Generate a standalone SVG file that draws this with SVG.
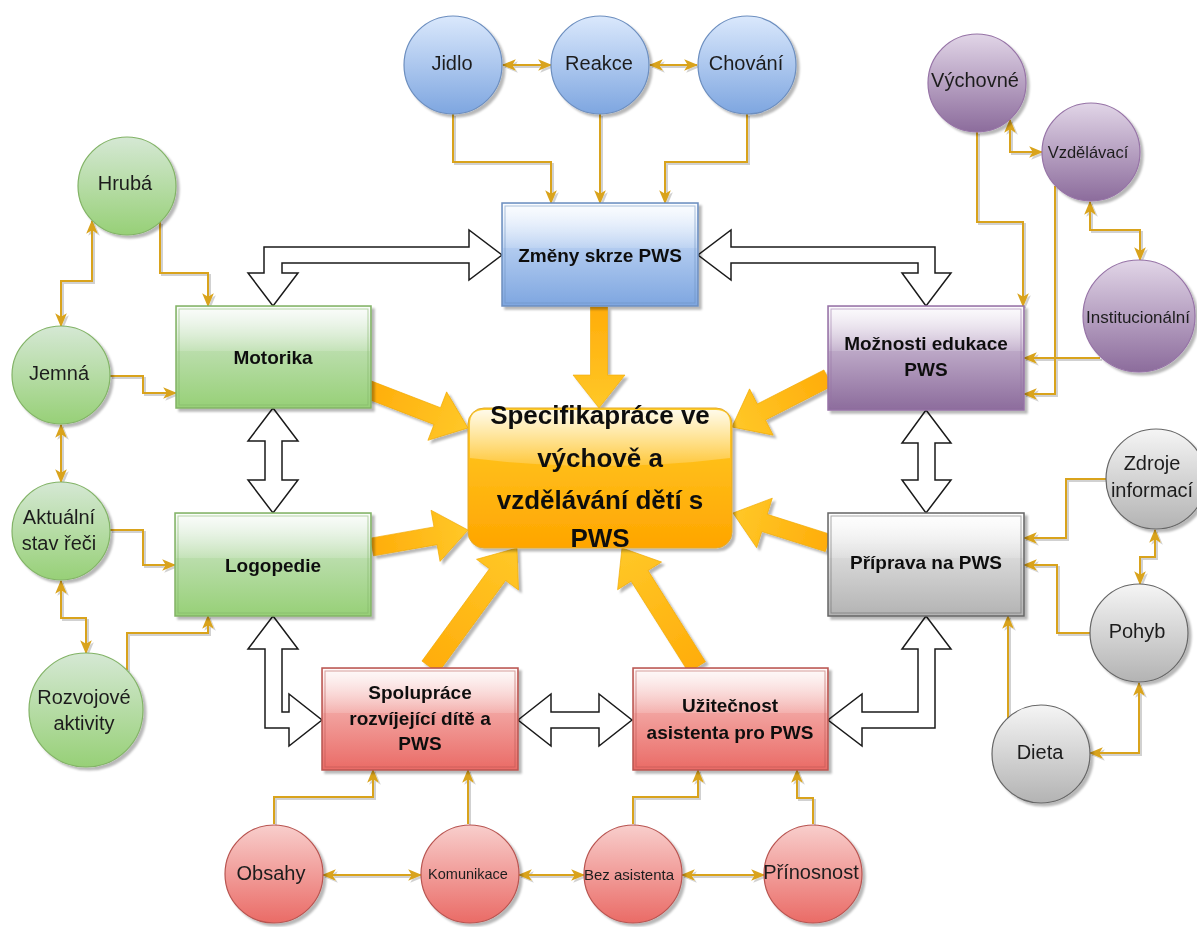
<svg xmlns="http://www.w3.org/2000/svg" width="1197" height="927" viewBox="0 0 1197 927">
  <defs>
    <linearGradient id="gBlue" x1="0" y1="0" x2="0" y2="1"><stop offset="0" stop-color="#dae8fc"/><stop offset="1" stop-color="#7ea6e0"/></linearGradient>
    <linearGradient id="gGreen" x1="0" y1="0" x2="0" y2="1"><stop offset="0" stop-color="#d5e8d4"/><stop offset="1" stop-color="#97d077"/></linearGradient>
    <linearGradient id="gPurple" x1="0" y1="0" x2="0" y2="1"><stop offset="0" stop-color="#e1d5e7"/><stop offset="1" stop-color="#8c6c9c"/></linearGradient>
    <linearGradient id="gRed" x1="0" y1="0" x2="0" y2="1"><stop offset="0" stop-color="#f8cecc"/><stop offset="1" stop-color="#ea6b66"/></linearGradient>
    <linearGradient id="gGray" x1="0" y1="0" x2="0" y2="1"><stop offset="0" stop-color="#f5f5f5"/><stop offset="1" stop-color="#b3b3b3"/></linearGradient>
    <linearGradient id="gOrange" x1="0" y1="0" x2="0" y2="1"><stop offset="0" stop-color="#ffcd28"/><stop offset="1" stop-color="#ffa500"/></linearGradient>
    <linearGradient id="gArrow" x1="0" y1="0" x2="1" y2="0"><stop offset="0" stop-color="#ffad0a"/><stop offset="1" stop-color="#ffc828"/></linearGradient>
    <linearGradient id="glass" x1="0" y1="0" x2="0" y2="1"><stop offset="0" stop-color="#fff" stop-opacity="0.9"/><stop offset="1" stop-color="#fff" stop-opacity="0.15"/></linearGradient>
    <filter id="sh" x="-20%" y="-20%" width="150%" height="150%">
      <feGaussianBlur in="SourceAlpha" stdDeviation="1.2"/>
      <feOffset dx="3" dy="3" result="o"/>
      <feFlood flood-color="#000" flood-opacity="0.28"/>
      <feComposite in2="o" operator="in"/>
      <feMerge><feMergeNode/><feMergeNode in="SourceGraphic"/></feMerge>
    </filter>
    <filter id="lsh" x="-10%" y="-10%" width="130%" height="130%">
      <feOffset in="SourceAlpha" dx="2" dy="2" result="o"/>
      <feFlood flood-color="#000" flood-opacity="0.18"/>
      <feComposite in2="o" operator="in"/>
      <feMerge><feMergeNode/><feMergeNode in="SourceGraphic"/></feMerge>
    </filter>
    <marker id="ah" viewBox="0 0 12 12" refX="11" refY="6" markerWidth="14" markerHeight="14" markerUnits="userSpaceOnUse" orient="auto-start-reverse">
      <path d="M0,1 L12,6 L0,11 L3,6 Z" fill="#d9a31b"/>
    </marker>
    <style>
      .lbl { font-family: "Liberation Sans", Arial, sans-serif; fill: #1e1e1e; text-anchor: middle; dominant-baseline: central; }
      .bt { font-size: 19px; font-weight: bold; fill: #111; }
      .ct { font-size: 20px; }
      .main { font-size: 26px; font-weight: bold; fill: #111; }
      .box { stroke-width: 1.5; }
      .inner { fill: none; stroke-width: 1; stroke-opacity: 0.55; }
      .circ { stroke-width: 1.2; }
      .cn { fill: none; stroke: #d9a31b; stroke-width: 2; }
      .one { marker-end: url(#ah); }
      .two { marker-start: url(#ah); marker-end: url(#ah); }
      .hollow { fill: #fff; stroke: #1a1a1a; stroke-width: 1.5; stroke-linejoin: miter; }
      .big { fill: url(#gArrow); stroke: #f0a800; stroke-width: 0.6; }
      .blue { fill: url(#gBlue); stroke: #6c8ebf; }
      .green { fill: url(#gGreen); stroke: #82b366; }
      .purple { fill: url(#gPurple); stroke: #9673a6; }
      .red { fill: url(#gRed); stroke: #b85450; }
      .gray { fill: url(#gGray); stroke: #666666; }
    </style>
  </defs>

  <rect width="1197" height="927" fill="#ffffff"/>

  <!-- connectors -->
  <g id="connectors">
    <g id="thin-links" filter="url(#lsh)">
      <!-- top group -->
      <path class="cn one" d="M453,114 V162 H551 V203"/>
      <path class="cn one" d="M600,114 V203"/>
      <path class="cn one" d="M747,114 V162 H665 V203"/>
      <path class="cn two" d="M503,65 H551"/>
      <path class="cn two" d="M650,65 H697"/>
      <!-- left group -->
      <path class="cn one" d="M160,222 V273 H208 V306"/>
      <path class="cn two" d="M92,221 V281 H61 V326"/>
      <path class="cn one" d="M110,376 H143 V393 H176"/>
      <path class="cn two" d="M61,425 V482"/>
      <path class="cn one" d="M110,530 H143 V565 H175"/>
      <path class="cn two" d="M61,581 V618 H86 V653"/>
      <path class="cn one" d="M127,670 V633 H208 V616"/>
      <!-- right upper group -->
      <path class="cn one" d="M977,132 V222 H1023 V306"/>
      <path class="cn two" d="M1010,120 V152 H1042"/>
      <path class="cn one" d="M1055,186 V394 H1024"/>
      <path class="cn two" d="M1090,202 V230 H1140 V260"/>
      <path class="cn one" d="M1100,358 H1024"/>
      <!-- right lower group -->
      <path class="cn one" d="M1106,479 H1066 V538 H1024"/>
      <path class="cn one" d="M1090,633 H1057 V565 H1024"/>
      <path class="cn two" d="M1155,530 V557 H1140 V584"/>
      <path class="cn one" d="M1008,718 V616"/>
      <path class="cn two" d="M1139,683 V753 H1090"/>
      <!-- bottom group -->
      <path class="cn one" d="M274,824 V797 H373 V770"/>
      <path class="cn one" d="M468,824 V770"/>
      <path class="cn two" d="M323,875 H421"/>
      <path class="cn two" d="M519,875 H584"/>
      <path class="cn two" d="M682,875 H764"/>
      <path class="cn one" d="M633,824 V797 H698 V770"/>
      <path class="cn one" d="M813,824 V798 H797 V770"/>
    </g>

    <!-- hollow block arrows between the category boxes -->
    <g id="block-links">
      <polygon class="hollow" points="469,247 264,247 264,273 248,273 273,306 298,273 282,273 282,263 469,263 469,280 502,255 469,230"/>
      <polygon class="hollow" points="731,247 935,247 935,273 951,273 926,306 902,273 918,273 918,263 731,263 731,280 698,255 731,230"/>
      <polygon class="hollow" points="273,408 298,441 282,441 282,480 298,480 273,513 248,480 265,480 265,441 248,441"/>
      <polygon class="hollow" points="273,616 298,649 282,649 282,712 289,712 289,694 322,720 289,746 289,728 265,728 265,649 248,649"/>
      <polygon class="hollow" points="518,720 551,694 551,712 599,712 599,694 632,720 599,746 599,728 551,728 551,746"/>
      <polygon class="hollow" points="926,616 951,649 935,649 935,728 862,728 862,746 828,720 862,694 862,712 918,712 918,649 902,649"/>
      <polygon class="hollow" points="926,410 951,443 935,443 935,480 951,480 926,513 902,480 918,480 918,443 902,443"/>
    </g>

    <!-- orange arrows into the central topic -->
    <g id="main-links" filter="url(#sh)">
      <polygon class="big" transform="translate(599,307) rotate(90)" points="0,-8.5 68,-8.5 68,-26 101,0 68,26 68,8.5 0,8.5"/>
      <polygon class="big" transform="translate(367,389) rotate(21.1)" points="0,-9 75.3,-9 75.3,-26 108.3,0 75.3,26 75.3,9 0,9"/>
      <polygon class="big" transform="translate(372,547) rotate(-10)" points="0,-9 64.5,-9 64.5,-26 97.5,0 64.5,26 64.5,9 0,9"/>
      <polygon class="big" transform="translate(828,378) rotate(152.96)" points="0,-9 74.8,-9 74.8,-26 107.8,0 74.8,26 74.8,9 0,9"/>
      <polygon class="big" transform="translate(828,543) rotate(-162.47)" points="0,-9 66.6,-9 66.6,-26 99.6,0 66.6,26 66.6,9 0,9"/>
      <polygon class="big" transform="translate(430,667) rotate(-53.83)" points="0,-10 114.4,-10 114.4,-26 147.4,0 114.4,26 114.4,10 0,10"/>
      <polygon class="big" transform="translate(697,667) rotate(-122.22)" points="0,-10 107.7,-10 107.7,-26 140.7,0 107.7,26 107.7,10 0,10"/>
    </g>
  </g>

  <!-- central topic -->
  <g id="center" filter="url(#sh)">
    <rect x="468" y="408" width="264" height="140" rx="16" fill="url(#gOrange)" stroke="#e3a92a" stroke-width="1"/>
    <path d="M470,424 Q470,410 484,410 H716 Q730,410 730,424 V458 Q600,474 470,458 Z" fill="url(#glass)"/>
    <text class="lbl main" x="600" y="415">Specifikapráce ve</text>
    <text class="lbl main" x="600" y="458">výchově a</text>
    <text class="lbl main" x="600" y="500">vzdělávání dětí s</text>
    <text class="lbl main" x="600" y="538">PWS</text>
  </g>

  <!-- category boxes -->
  <g id="zmeny" filter="url(#sh)">
    <rect class="box blue" x="502" y="203" width="196" height="103"/>
    <rect x="503" y="204" width="194" height="44" fill="url(#glass)"/>
    <rect class="inner" x="505" y="206" width="190" height="97" stroke="#6c8ebf"/>
    <text class="lbl bt" x="600" y="255">Změny skrze PWS</text>
  </g>

  <g id="motorika" filter="url(#sh)">
    <rect class="box green" x="176" y="306" width="195" height="102"/>
    <rect x="177" y="307" width="193" height="44" fill="url(#glass)"/>
    <rect class="inner" x="179" y="309" width="189" height="96" stroke="#82b366"/>
    <text class="lbl bt" x="273" y="357">Motorika</text>
  </g>

  <g id="logopedie" filter="url(#sh)">
    <rect class="box green" x="175" y="513" width="196" height="103"/>
    <rect x="176" y="514" width="194" height="44" fill="url(#glass)"/>
    <rect class="inner" x="178" y="516" width="190" height="97" stroke="#82b366"/>
    <text class="lbl bt" x="273" y="565">Logopedie</text>
  </g>

  <g id="moznosti" filter="url(#sh)">
    <rect class="box purple" x="828" y="306" width="196" height="104"/>
    <rect x="829" y="307" width="194" height="44" fill="url(#glass)"/>
    <rect class="inner" x="831" y="309" width="190" height="98" stroke="#9673a6"/>
    <text class="lbl bt" x="926" y="343">Možnosti edukace</text>
    <text class="lbl bt" x="926" y="369">PWS</text>
  </g>

  <g id="priprava" filter="url(#sh)">
    <rect class="box gray" x="828" y="513" width="196" height="103"/>
    <rect x="829" y="514" width="194" height="44" fill="url(#glass)"/>
    <rect class="inner" x="831" y="516" width="190" height="97" stroke="#666666"/>
    <text class="lbl bt" x="926" y="562">Příprava na PWS</text>
  </g>

  <g id="spoluprace" filter="url(#sh)">
    <rect class="box red" x="322" y="668" width="196" height="102"/>
    <rect x="323" y="669" width="194" height="44" fill="url(#glass)"/>
    <rect class="inner" x="325" y="671" width="190" height="96" stroke="#b85450"/>
    <text class="lbl bt" x="420" y="692">Spolupráce</text>
    <text class="lbl bt" x="420" y="718">rozvíjející dítě a</text>
    <text class="lbl bt" x="420" y="743">PWS</text>
  </g>

  <g id="uzitecnost" filter="url(#sh)">
    <rect class="box red" x="633" y="668" width="195" height="102"/>
    <rect x="634" y="669" width="193" height="44" fill="url(#glass)"/>
    <rect class="inner" x="636" y="671" width="189" height="96" stroke="#b85450"/>
    <text class="lbl bt" x="730" y="705">Užitečnost</text>
    <text class="lbl bt" x="730" y="732">asistenta pro PWS</text>
  </g>

  <!-- top circles -->
  <g id="jidlo" filter="url(#sh)">
    <circle class="circ blue" cx="453" cy="65" r="49"/>
    <text class="lbl ct" x="452" y="63">Jidlo</text>
  </g>
  <g id="reakce" filter="url(#sh)">
    <circle class="circ blue" cx="600" cy="65" r="49"/>
    <text class="lbl ct" x="599" y="63">Reakce</text>
  </g>
  <g id="chovani" filter="url(#sh)">
    <circle class="circ blue" cx="747" cy="65" r="49"/>
    <text class="lbl ct" x="746" y="63">Chování</text>
  </g>

  <!-- left circles -->
  <g id="hruba" filter="url(#sh)">
    <circle class="circ green" cx="127" cy="186" r="49"/>
    <text class="lbl ct" x="125" y="183">Hrubá</text>
  </g>
  <g id="jemna" filter="url(#sh)">
    <circle class="circ green" cx="61" cy="375" r="49"/>
    <text class="lbl ct" x="59" y="373">Jemná</text>
  </g>
  <g id="aktualni" filter="url(#sh)">
    <circle class="circ green" cx="61" cy="531" r="49"/>
    <text class="lbl ct" x="59" y="517">Aktuální</text>
    <text class="lbl ct" x="59" y="543">stav řeči</text>
  </g>
  <g id="rozvojove" filter="url(#sh)">
    <circle class="circ green" cx="86" cy="710" r="57"/>
    <text class="lbl ct" x="84" y="697">Rozvojové</text>
    <text class="lbl ct" x="84" y="723">aktivity</text>
  </g>

  <!-- right upper circles -->
  <g id="vychovne" filter="url(#sh)">
    <circle class="circ purple" cx="977" cy="83" r="49"/>
    <text class="lbl ct" x="975" y="80">Výchovné</text>
  </g>
  <g id="vzdelavaci" filter="url(#sh)">
    <circle class="circ purple" cx="1091" cy="152" r="49"/>
    <text class="lbl" x="1088" y="152" style="font-size:16.5px">Vzdělávací</text>
  </g>
  <g id="institucionalni" filter="url(#sh)">
    <circle class="circ purple" cx="1139" cy="316" r="56"/>
    <text class="lbl" x="1138" y="317" style="font-size:17px">Institucionální</text>
  </g>

  <!-- right lower circles -->
  <g id="zdroje" filter="url(#sh)">
    <circle class="circ gray" cx="1156" cy="479" r="50"/>
    <text class="lbl ct" x="1152" y="463">Zdroje</text>
    <text class="lbl ct" x="1152" y="490">informací</text>
  </g>
  <g id="pohyb" filter="url(#sh)">
    <circle class="circ gray" cx="1139" cy="633" r="49"/>
    <text class="lbl ct" x="1137" y="631">Pohyb</text>
  </g>
  <g id="dieta" filter="url(#sh)">
    <circle class="circ gray" cx="1041" cy="754" r="49"/>
    <text class="lbl ct" x="1040" y="752">Dieta</text>
  </g>

  <!-- bottom circles -->
  <g id="obsahy" filter="url(#sh)">
    <circle class="circ red" cx="274" cy="874" r="49"/>
    <text class="lbl ct" x="271" y="873">Obsahy</text>
  </g>
  <g id="komunikace" filter="url(#sh)">
    <circle class="circ red" cx="470" cy="874" r="49"/>
    <text class="lbl" x="468" y="874" style="font-size:14.5px">Komunikace</text>
  </g>
  <g id="bez-asistenta" filter="url(#sh)">
    <circle class="circ red" cx="633" cy="874" r="49"/>
    <text class="lbl" x="629" y="874" style="font-size:15px">Bez asistenta</text>
  </g>
  <g id="prinosnost" filter="url(#sh)">
    <circle class="circ red" cx="813" cy="874" r="49"/>
    <text class="lbl ct" x="811" y="872">Přínosnost</text>
  </g>
</svg>
